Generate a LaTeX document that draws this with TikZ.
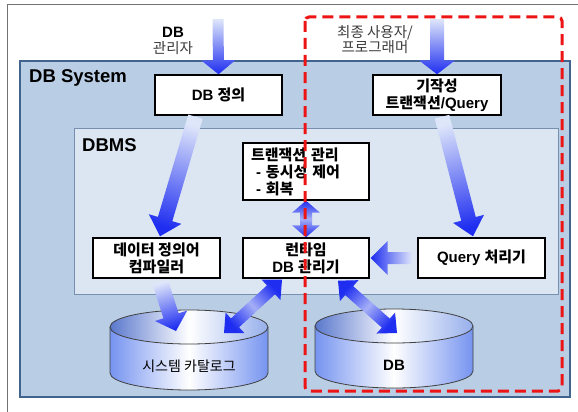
\documentclass[tikz,border=0pt]{standalone}
\usepackage{fontspec}
\setmainfont{Liberation Sans}
\newfontfamily\kr{Noto Sans CJK KR}
\usetikzlibrary{calc}
\definecolor{sysfill}{RGB}{185,205,229}
\definecolor{sysline}{RGB}{65,99,143}
\definecolor{dbmsfill}{RGB}{220,230,242}
\definecolor{dbmsline}{RGB}{120,144,176}
\definecolor{arrblue}{RGB}{30,45,240}
\definecolor{arrpale}{RGB}{222,230,250}
\definecolor{cylb}{RGB}{118,148,240}
\definecolor{cyltl}{RGB}{90,120,205}
\definecolor{cyltr}{RGB}{150,175,235}
\definecolor{redframe}{RGB}{236,20,20}
\definecolor{txtgray}{RGB}{60,60,60}
\newcommand\fs[2]{\fontsize{#1}{#2}\selectfont}
% #1 tail, #2 tip, #3 shaft half width, #4 head half width, #5 head length
\newcommand\fatarrow[5]{%
  \coordinate (fa) at (#1);
  \coordinate (fb) at (#2);
  \path let \p1=($(fb)-(fa)$) in \pgfextra{\pgfmathsetmacro\farang{atan2(\y1,\x1)-90}\global\let\farang\farang};
  \coordinate (fh) at ($(fb)!#5!(fa)$);
  \shade[top color=arrblue, bottom color=arrpale, shading angle=\farang]
    ($(fa)!#3!90:(fb)$) -- ($(fh)!#3!-90:(fa)$) -- ($(fh)!#4!-90:(fa)$) -- (fb)
    -- ($(fh)!#4!90:(fa)$) -- ($(fh)!#3!90:(fa)$) -- ($(fa)!#3!-90:(fb)$) -- cycle;
}
\newcommand\dblarrow[5]{%
  \coordinate (fa) at (#1);
  \coordinate (fb) at (#2);
  \path let \p1=($(fb)-(fa)$) in \pgfextra{\pgfmathsetmacro\farang{atan2(\y1,\x1)-90}\global\let\farang\farang};
  \coordinate (fh) at ($(fb)!#5!(fa)$);
  \coordinate (fg) at ($(fa)!#5!(fb)$);
  \shade[top color=arrblue, bottom color=arrblue, middle color=arrpale!70!arrblue, shading angle=\farang]
    (fa) -- ($(fg)!#4!90:(fb)$) -- ($(fg)!#3!90:(fb)$) -- ($(fh)!#3!-90:(fa)$) -- ($(fh)!#4!-90:(fa)$) -- (fb)
    -- ($(fh)!#4!90:(fa)$) -- ($(fh)!#3!90:(fa)$) -- ($(fg)!#3!-90:(fb)$) -- ($(fg)!#4!-90:(fb)$) -- cycle;
}
\tikzset{
  wbox/.style={draw=black, line width=1.4pt, fill=white, inner sep=0pt,
    font=\bfseries\fs{15}{17}, align=center, minimum height=40pt, minimum width=127pt},
  cylline/.style={draw=black!75, line width=0.8pt},
}
\begin{document}
\begin{tikzpicture}[x=1pt, y=-1pt]
\useasboundingbox (0,0) rectangle (578,412);
\fill[white] (0,0) rectangle (578,412);
% outer frame
\draw[black!55, line width=1pt] (7,412) -- (7,5) -- (578,5);
% DB System
\draw[sysline, line width=1.3pt, fill=sysfill] (20,61) rectangle (570,397);
\node[font=\bfseries\fs{18.5}{20}, anchor=west, inner sep=0pt] (syslbl) at (29,78) {DB System};
% DBMS
\draw[dbmsline, line width=1pt, fill=dbmsfill] (74,128) rectangle (558,294);
\node[font=\bfseries\fs{18.5}{20}, anchor=west, inner sep=0pt] (dbmslbl) at (82,145) {DBMS};
% top labels
\node[font=\bfseries\fs{15}{16}, inner sep=0pt] (admindb) at (173,32) {DB};
\node[font=\kr\fs{14.5}{15}, text=txtgray, inner sep=0pt] (admin) at (173,48) {관리자};
\node[font=\kr\fs{14.5}{15}, text=txtgray, align=center, inner sep=0pt] (user) at (375,40) {최종 사용자/\\프로그래머};
% cylinders
\coordinate (cat) at (189,350);
\coordinate (db) at (394,349);
\shade[left color=cylb, right color=cylb, middle color=white]
  (110,327) -- (110,373) arc[start angle=180, end angle=360, x radius=79pt, y radius=17pt] -- (268,327) -- cycle;
\draw[cylline] (110,327) -- (110,373) arc[start angle=180, end angle=360, x radius=79pt, y radius=17pt] -- (268,327);
\shade[left color=cyltl, right color=cyltr, middle color=white] (189,327) ellipse [x radius=79pt, y radius=17pt];
\draw[cylline] (189,327) ellipse [x radius=79pt, y radius=17pt];
\node[font=\kr\fs{14}{16}, inner sep=0pt] (catlbl) at (189,366) {시스템 카탈로그};
\shade[left color=cylb, right color=cylb, middle color=white]
  (315,326) -- (315,371) arc[start angle=180, end angle=360, x radius=79pt, y radius=17pt] -- (473,326) -- cycle;
\draw[cylline] (315,326) -- (315,371) arc[start angle=180, end angle=360, x radius=79pt, y radius=17pt] -- (473,326);
\shade[left color=cyltl, right color=cyltr, middle color=white] (394,326) ellipse [x radius=79pt, y radius=17pt];
\draw[cylline] (394,326) ellipse [x radius=79pt, y radius=17pt];
\node[font=\bfseries\fs{15}{16}, inner sep=0pt] (dblbl) at (394,365) {DB};
% boxes
\node[wbox] (dbdef) at (218.5,95) {DB {\kr 정의}};
\node[wbox, minimum width=128pt] (prequery) at (437,95) {{\kr 기작성}\\{\kr 트랜잭션}/Query};
\node[wbox, text width=110pt, inner xsep=8pt, minimum width=0pt, minimum height=57pt, align=left] (trans) at (306,171.5)
  {{\kr 트랜잭션 관리}\\\hspace*{5pt}- {\kr 동시성 제어}\\\hspace*{5pt}- {\kr 회복}};
\node[wbox] (ddlc) at (156.5,258) {{\kr 데이터 정의어}\\{\kr 컴파일러}};
\node[wbox, minimum width=126pt] (runtime) at (306,258) {{\kr 런타임}\\DB {\kr 관리기}};
\node[wbox] (qproc) at (481.5,258) {Query {\kr 처리기}};
% arrows
\coordinate (admintail) at (218,19);
\coordinate (usertail) at (437,19);
\fatarrow{admintail}{dbdef.north}{5.5pt}{17pt}{14pt}
\fatarrow{usertail}{prequery.north}{7pt}{18pt}{14pt}
\fatarrow{$(dbdef.south)+(-23,1)$}{$(ddlc.north)+(3.5,-1)$}{7.5pt}{17pt}{18pt}
\fatarrow{$(prequery.south)+(5,1)$}{$(qproc.north)+(-8.5,-1)$}{7.5pt}{16pt}{18pt}
\dblarrow{trans.south}{runtime.north}{6pt}{14pt}{12pt}
\fatarrow{$(qproc.west)+(-5,0)$}{$(runtime.east)+(1,0)$}{6pt}{17pt}{17pt}
\fatarrow{$(ddlc.south)+(3.5,3)$}{$(cat)+(-13,-19)$}{8pt}{17pt}{16pt}
\dblarrow{$(runtime.south)+(-24,1)$}{$(cat)+(35,-17)$}{6pt}{14pt}{15pt}
\dblarrow{$(runtime.south)+(32,2)$}{$(db)+(3,-16)$}{6pt}{14pt}{15pt}
% red dashed frame
\draw[redframe, line width=3pt, dash pattern=on 11pt off 6pt, rounded corners=4pt] (305,17) rectangle (562,391);
\end{tikzpicture}
\end{document}
